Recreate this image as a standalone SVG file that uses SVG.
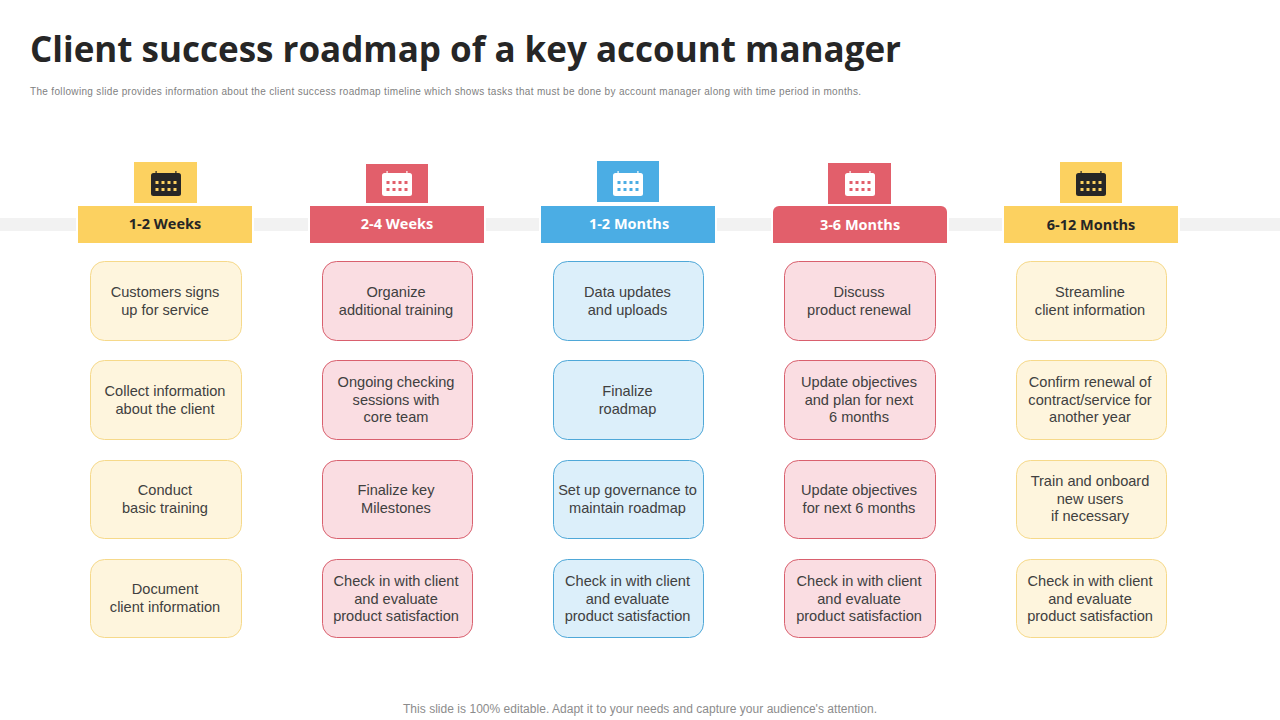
<svg xmlns="http://www.w3.org/2000/svg" xmlns:xlink="http://www.w3.org/1999/xlink" width="1280" height="720" viewBox="0 0 1280 720">
<style>
text{font-family:"Liberation Sans",Arial,sans-serif}
.title{font-family:"Open Sans","Noto Sans",sans-serif;font-weight:700;font-size:35px;fill:#262626}
.sub{font-size:10px;fill:#7f7f7f}
.foot{font-size:12px;fill:#8c8c8c;text-anchor:middle}
.hd{font-family:"Open Sans","Noto Sans",sans-serif;font-weight:700;font-size:14.5px;text-anchor:middle}
.t{font-size:14.6px;fill:#404040;text-anchor:middle}
.y{fill:#fcd160}.r{fill:#e25f6b}.b{fill:#4bade4}
.cy{fill:#fef5dd;stroke:#f6d98a}.cr{fill:#fadde2;stroke:#d9606e}.cb{fill:#dceffa;stroke:#4fa8d8}
.card{stroke-width:1}
.dark{fill:#262626}.white{fill:#fff}
</style>
<defs>
<symbol id="cal" viewBox="0 0 30 26" width="30" height="26" overflow="visible">
<rect x="0" y="2" width="30" height="23" rx="2.5" fill="currentColor"/>
<rect x="4.5" y="0" width="1.2" height="5" fill="currentColor"/>
<rect x="24.3" y="0" width="1.2" height="5" fill="currentColor"/>
<g>
<rect x="4.5" y="10" width="3" height="3"/><rect x="10.5" y="10" width="3" height="3"/><rect x="16.5" y="10" width="3" height="3"/><rect x="22.5" y="10" width="3" height="3"/>
<rect x="4.5" y="17" width="3" height="3"/><rect x="10.5" y="17" width="3" height="3"/><rect x="16.5" y="17" width="3" height="3"/><rect x="22.5" y="17" width="3" height="3"/>
</g>
</symbol>
</defs>
<rect width="1280" height="720" fill="#fff"/>
<g id="heading">
<text class="title" x="30" y="62" textLength="871" lengthAdjust="spacing">Client success roadmap of a key account manager</text>
<text class="sub" x="30" y="95" textLength="831" lengthAdjust="spacing">The following slide provides information about the client success roadmap timeline which shows tasks that must be done by account manager along with time period in months.</text>
</g>
<g id="connectors">
<rect x="0" y="218" width="1280" height="13" fill="#f2f2f2"/>
<rect x="76" y="204" width="178" height="41" fill="#fff"/>
<rect x="308" y="204" width="178" height="41" fill="#fff"/>
<rect x="539" y="204" width="178" height="41" fill="#fff"/>
<rect x="771" y="204" width="178" height="41" fill="#fff"/>
<rect x="1002" y="204" width="178" height="41" fill="#fff"/>
</g>
<g id="col1">
<g id="col1-icon"><rect class="y" x="134" y="162" width="63" height="41"/><use href="#cal" x="151" y="171" color="#262626" fill="#fcd160"/></g>
<g id="col1-header"><rect class="y" x="78" y="206" width="174" height="37"/><text class="hd dark" x="165" y="229">1-2 Weeks</text></g>
<g id="col1-a"><rect class="card cy" x="90.500" y="261.500" width="151" height="79" rx="14"/><text class="t" x="165" y="297">Customers signs</text><text class="t" x="165" y="315">up for service</text></g>
<g id="col1-b"><rect class="card cy" x="90.500" y="360.500" width="151" height="79" rx="14"/><text class="t" x="165" y="396">Collect information</text><text class="t" x="165" y="414">about the client</text></g>
<g id="col1-c"><rect class="card cy" x="90.500" y="460.500" width="151" height="78" rx="14"/><text class="t" x="165" y="495">Conduct</text><text class="t" x="165" y="513">basic training</text></g>
<g id="col1-d"><rect class="card cy" x="90.500" y="559.500" width="151" height="78" rx="14"/><text class="t" x="165" y="594">Document</text><text class="t" x="165" y="612">client information</text></g>
</g>
<g id="col2">
<g id="col2-icon"><rect class="r" x="366" y="164" width="62" height="39"/><use href="#cal" x="382" y="171" color="#fff" fill="#e25f6b"/></g>
<g id="col2-header"><rect class="r" x="310" y="206" width="174" height="37"/><text class="hd white" x="397" y="229">2-4 Weeks</text></g>
<g id="col2-a"><rect class="card cr" x="322.500" y="261.500" width="150" height="79" rx="14"/><text class="t" x="396" y="297">Organize</text><text class="t" x="396" y="315">additional training</text></g>
<g id="col2-b"><rect class="card cr" x="322.500" y="360.500" width="150" height="79" rx="14"/><text class="t" x="396" y="387">Ongoing checking</text><text class="t" x="396" y="405">sessions with</text><text class="t" x="396" y="422">core team</text></g>
<g id="col2-c"><rect class="card cr" x="322.500" y="460.500" width="150" height="78" rx="14"/><text class="t" x="396" y="495">Finalize key</text><text class="t" x="396" y="513">Milestones</text></g>
<g id="col2-d"><rect class="card cr" x="322.500" y="559.500" width="150" height="78" rx="14"/><text class="t" x="396" y="586">Check in with client</text><text class="t" x="396" y="604">and evaluate</text><text class="t" x="396" y="621">product satisfaction</text></g>
</g>
<g id="col3">
<g id="col3-icon"><rect class="b" x="597" y="161" width="62" height="41"/><use href="#cal" x="613" y="171" color="#fff" fill="#4bade4"/></g>
<g id="col3-header"><rect class="b" x="541" y="206" width="174" height="37"/><text class="hd white" x="629" y="229">1-2 Months</text></g>
<g id="col3-a"><rect class="card cb" x="553.500" y="261.500" width="150" height="79" rx="14"/><text class="t" x="627.500" y="297">Data updates</text><text class="t" x="627.500" y="315">and uploads</text></g>
<g id="col3-b"><rect class="card cb" x="553.500" y="360.500" width="150" height="79" rx="14"/><text class="t" x="627.500" y="396">Finalize</text><text class="t" x="627.500" y="414">roadmap</text></g>
<g id="col3-c"><rect class="card cb" x="553.500" y="460.500" width="150" height="78" rx="14"/><text class="t" x="627.500" y="495">Set up governance to</text><text class="t" x="627.500" y="513">maintain roadmap</text></g>
<g id="col3-d"><rect class="card cb" x="553.500" y="559.500" width="150" height="78" rx="14"/><text class="t" x="627.500" y="586">Check in with client</text><text class="t" x="627.500" y="604">and evaluate</text><text class="t" x="627.500" y="621">product satisfaction</text></g>
</g>
<g id="col4">
<g id="col4-icon"><rect class="r" x="828" y="163" width="63" height="41"/><use href="#cal" x="845" y="171" color="#fff" fill="#e25f6b"/></g>
<g id="col4-header"><path class="r" d="M773 243V212a6 6 0 0 1 6-6H941a6 6 0 0 1 6 6V243Z"/><text class="hd white" x="860" y="230">3-6 Months</text></g>
<g id="col4-a"><rect class="card cr" x="784.500" y="261.500" width="151" height="79" rx="14"/><text class="t" x="859" y="297">Discuss</text><text class="t" x="859" y="315">product renewal</text></g>
<g id="col4-b"><rect class="card cr" x="784.500" y="360.500" width="151" height="79" rx="14"/><text class="t" x="859" y="387">Update objectives</text><text class="t" x="859" y="405">and plan for next</text><text class="t" x="859" y="422">6 months</text></g>
<g id="col4-c"><rect class="card cr" x="784.500" y="460.500" width="151" height="78" rx="14"/><text class="t" x="859" y="495">Update objectives</text><text class="t" x="859" y="513">for next 6 months</text></g>
<g id="col4-d"><rect class="card cr" x="784.500" y="559.500" width="151" height="78" rx="14"/><text class="t" x="859" y="586">Check in with client</text><text class="t" x="859" y="604">and evaluate</text><text class="t" x="859" y="621">product satisfaction</text></g>
</g>
<g id="col5">
<g id="col5-icon"><rect class="y" x="1060" y="162" width="62" height="41"/><use href="#cal" x="1076" y="171" color="#262626" fill="#fcd160"/></g>
<g id="col5-header"><rect class="y" x="1004" y="206" width="174" height="37"/><text class="hd dark" x="1091" y="230">6-12 Months</text></g>
<g id="col5-a"><rect class="card cy" x="1016.500" y="261.500" width="150" height="79" rx="14"/><text class="t" x="1090" y="297">Streamline</text><text class="t" x="1090" y="315">client information</text></g>
<g id="col5-b"><rect class="card cy" x="1016.500" y="360.500" width="150" height="79" rx="14"/><text class="t" x="1090" y="387">Confirm renewal of</text><text class="t" x="1090" y="405">contract/service for</text><text class="t" x="1090" y="422">another year</text></g>
<g id="col5-c"><rect class="card cy" x="1016.500" y="460.500" width="150" height="78" rx="14"/><text class="t" x="1090" y="486">Train and onboard</text><text class="t" x="1090" y="504">new users</text><text class="t" x="1090" y="521">if necessary</text></g>
<g id="col5-d"><rect class="card cy" x="1016.500" y="559.500" width="150" height="78" rx="14"/><text class="t" x="1090" y="586">Check in with client</text><text class="t" x="1090" y="604">and evaluate</text><text class="t" x="1090" y="621">product satisfaction</text></g>
</g>
<text class="foot" x="640" y="713" textLength="474" lengthAdjust="spacing">This slide is 100% editable. Adapt it to your needs and capture your audience's attention.</text>
</svg>
